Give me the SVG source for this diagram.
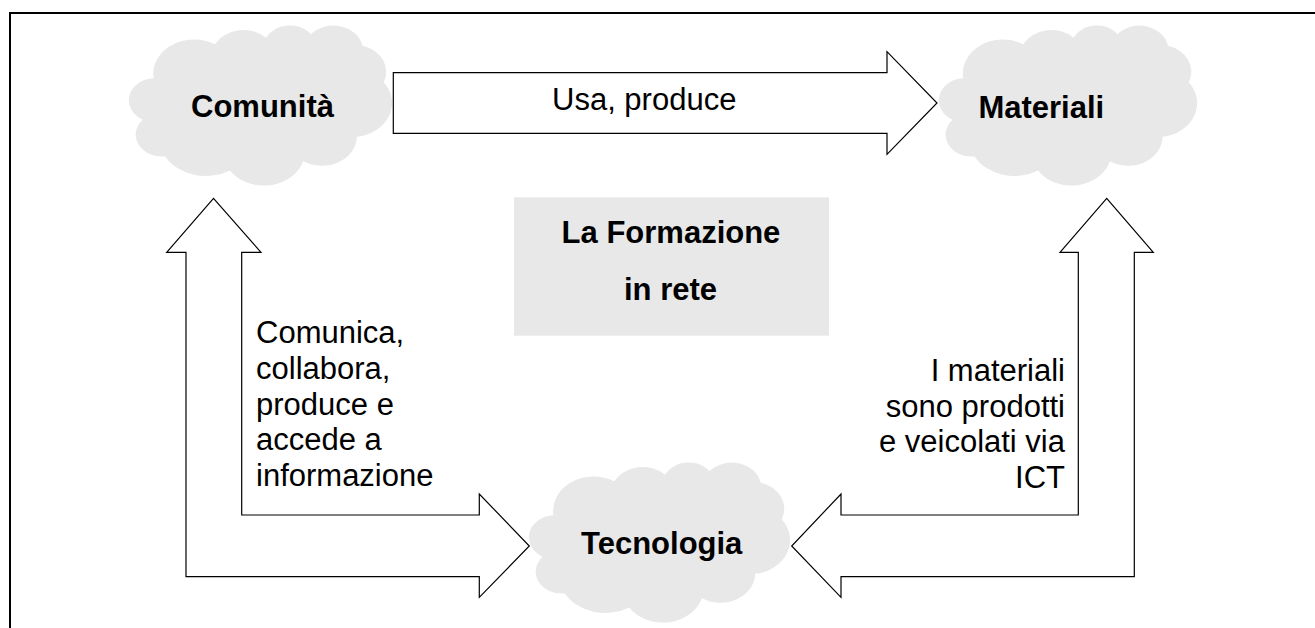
<svg xmlns="http://www.w3.org/2000/svg" width="1315" height="628" viewBox="0 0 1315 628">
<style>
.cloud{fill:#e8e8e8;stroke:none}
.arrow{fill:#ffffff;stroke:#000000;stroke-width:1.2;stroke-linejoin:miter}
.bold{font-family:"Liberation Sans",Arial,sans-serif;font-weight:bold;font-size:31px;fill:#000000}
.reg{font-family:"Liberation Sans",Arial,sans-serif;font-size:31px;fill:#000000}
</style>
<defs>
<path id="cloudShape" class="cloud" d="M3900,14370 A6753,9190 0 0 1 14005,5202 A5333,7267 0 0 1 22456,3433 A4365,5945 0 0 1 29834,2482 A4857,6595 0 0 1 38319,5576 A5333,7273 0 0 1 41820,15460 A6775,9220 0 0 1 37405,30201 A5785,7867 0 0 1 28556,36811 A6752,9215 0 0 1 16482,39265 A7720,10543 0 0 1 5807,35476 A4360,5918 0 0 1 2115,25554 A4345,5945 0 0 1 3900,14370 Z"/>
</defs>
<rect width="1315" height="628" fill="#ffffff"/>
<rect x="10" y="13" width="1400" height="700" fill="none" stroke="#000000" stroke-width="2"/>

<g id="connectors">
<path class="arrow" d="M393.3,72.7 L887,72.7 L887,51.7 L937,103 L887,154.3 L887,133.3 L393.3,133.3 Z"/>
<path class="arrow" d="M213.5,198.3 L261,252.3 L241.7,252.3 L241.7,515 L479.3,515 L479.3,494 L529.3,546 L479.3,597.3 L479.3,576.7 L186,576.7 L186,252.3 L166.7,252.3 Z"/>
<path class="arrow" d="M1106.7,198.3 L1153.3,252.3 L1134.3,252.3 L1134.3,576.7 L841,576.7 L841,597.3 L791.7,546 L841,494 L841,515 L1078.3,515 L1078.3,252.3 L1060,252.3 Z"/>
<text class="reg" x="552" y="110">Usa, produce</text>
<text class="reg" x="256" y="343">Comunica,</text>
<text class="reg" x="256" y="379">collabora,</text>
<text class="reg" x="256" y="414.5">produce e</text>
<text class="reg" x="256" y="450">accede a</text>
<text class="reg" x="256" y="486">informazione</text>
<text class="reg" x="1065" y="381" text-anchor="end">I materiali</text>
<text class="reg" x="1065" y="416.5" text-anchor="end">sono prodotti</text>
<text class="reg" x="1065" y="452" text-anchor="end">e veicolati via</text>
<text class="reg" x="1065" y="487.5" text-anchor="end">ICT</text>
</g>

<g id="comunita">
<use href="#cloudShape" transform="translate(130,25) scale(0.0060648,0.0037037)"/>
<text class="bold" x="262.5" y="117" text-anchor="middle">Comunità</text>
</g>

<g id="materiali">
<use href="#cloudShape" transform="translate(940,25) scale(0.0059491,0.0037037)"/>
<text class="bold" x="1041.3" y="118" text-anchor="middle">Materiali</text>
</g>

<g id="tecnologia">
<use href="#cloudShape" transform="translate(530,462) scale(0.0060185,0.0037037)"/>
<text class="bold" x="661.7" y="554" text-anchor="middle">Tecnologia</text>
</g>

<g id="formazione">
<rect x="514" y="197.3" width="315" height="138.4" fill="#e8e8e8"/>
<text class="bold" x="671" y="243.3" text-anchor="middle">La Formazione</text>
<text class="bold" x="670.5" y="300" text-anchor="middle">in rete</text>
</g>
</svg>
